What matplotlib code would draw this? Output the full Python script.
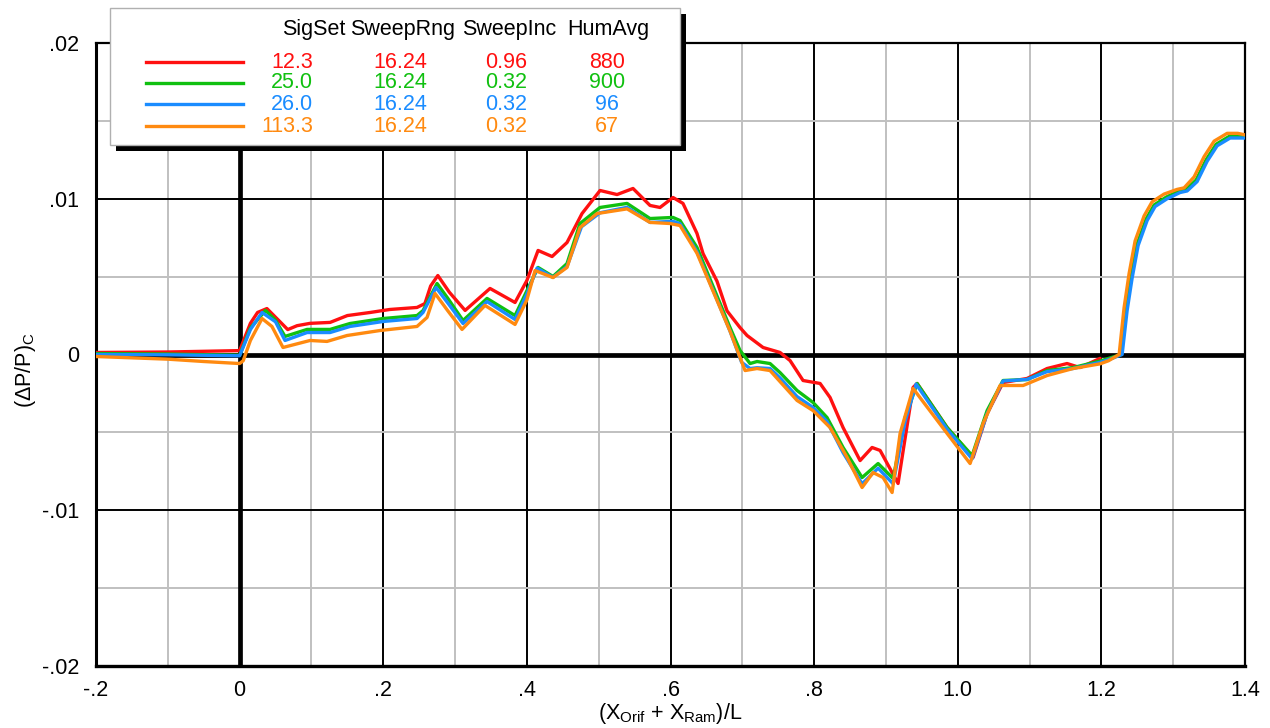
import matplotlib
matplotlib.use("Agg")
import matplotlib.pyplot as plt
from matplotlib.patches import Rectangle

plt.rcParams['font.family'] = ['Liberation Sans', 'DejaVu Sans']
plt.rcParams['mathtext.fontset'] = 'custom'
plt.rcParams['mathtext.rm'] = 'Liberation Sans'
plt.rcParams['mathtext.it'] = 'Liberation Sans:italic'

# ---- run data: normalized position vs. (dP/P)_C ----
red_x = [-0.200, -0.100, 0.000, 0.015, 0.025, 0.038, 0.052, 0.067, 0.080, 0.098,
         0.126, 0.150, 0.182, 0.209, 0.247, 0.258, 0.266, 0.276, 0.292, 0.314,
         0.3487, 0.3835, 0.400, 0.4156, 0.4351, 0.4559, 0.4768, 0.5019, 0.5256, 0.5478,
         0.5715, 0.5854, 0.6035, 0.6174, 0.6369, 0.6453, 0.6648, 0.6787, 0.6968, 0.7066,
         0.7289, 0.7525, 0.7665, 0.7846, 0.8083, 0.8222, 0.8403, 0.8640, 0.8807, 0.8919,
         0.9169, 0.9239, 0.9378, 0.9434, 0.9852, 1.0214, 1.0409, 1.0631, 1.0965, 1.1244,
         1.1522, 1.1703, 1.1982]
red_y = [0.00013, 0.00016, 0.00025, 0.00200, 0.00270, 0.00295, 0.00230, 0.00160, 0.00185, 0.00200,
         0.00206, 0.00250, 0.00270, 0.00289, 0.00302, 0.00327, 0.00440, 0.00507, 0.00400, 0.00283,
         0.00424, 0.00334, 0.00475, 0.00668, 0.00629, 0.00719, 0.00905, 0.01053, 0.01027, 0.01066,
         0.00957, 0.00944, 0.01008, 0.00970, 0.00777, 0.00648, 0.00470, 0.00280, 0.00173, 0.00122,
         0.00045, 0.00013, -0.00039, -0.00167, -0.00186, -0.00276, -0.00469, -0.00681, -0.00597, -0.00616,
         -0.00828, -0.00620, -0.00212, -0.00186, -0.00469, -0.00661, -0.00379, -0.00180, -0.00154, -0.00090,
         -0.00058, -0.00084, -0.00025]

green_x = [-0.200, -0.100, 0.000, 0.015, 0.036, 0.050, 0.0632, 0.0939, 0.1259, 0.1537,
           0.1997, 0.2470, 0.2554, 0.2749, 0.290, 0.3111, 0.3445, 0.3835, 0.4002, 0.4156,
           0.4364, 0.4559, 0.4740, 0.5019, 0.5395, 0.5715, 0.6035, 0.6133, 0.6369, 0.6829,
           0.6968, 0.7108, 0.7205, 0.7386, 0.7525, 0.7762, 0.7985, 0.8180, 0.8403, 0.8668,
           0.8891, 0.9100, 0.9267, 0.9434, 0.9852, 1.0200, 1.0409, 1.0631, 1.0965, 1.1244,
           1.1606, 1.1982, 1.2100, 1.2275, 1.2344, 1.2414, 1.2498, 1.2623, 1.2734, 1.2901, 1.3082,
           1.3180, 1.3319, 1.3458, 1.3598, 1.3779, 1.4000]
green_y = [0.00006, 0.00003, -0.00005, 0.00170, 0.00283, 0.00220, 0.00116, 0.00161, 0.00161, 0.00199,
           0.00231, 0.00250, 0.00282, 0.00456, 0.00360, 0.00218, 0.00360, 0.00250, 0.00411, 0.00559,
           0.00501, 0.00584, 0.00841, 0.00944, 0.00970, 0.00873, 0.00880, 0.00860, 0.00687, 0.00173,
           0.00026, -0.00058, -0.00045, -0.00058, -0.00116, -0.00231, -0.00308, -0.00405, -0.00597, -0.00790,
           -0.00700, -0.00796, -0.00405, -0.00186, -0.00469, -0.00649, -0.00360, -0.00167, -0.00161, -0.00103,
           -0.00084, -0.00042, -0.00025, 0.00000, 0.00280, 0.00500, 0.00710, 0.00870, 0.00960, 0.01010, 0.01050,
           0.01060, 0.01120, 0.01250, 0.01350, 0.01400, 0.01400]

blue_x = [-0.200, -0.100, 0.000, 0.015, 0.0312, 0.050, 0.0632, 0.0939, 0.1259, 0.1537,
          0.1997, 0.2470, 0.2554, 0.2735, 0.290, 0.3111, 0.3445, 0.3835, 0.4002, 0.4142,
          0.4364, 0.4559, 0.4760, 0.5019, 0.5395, 0.5715, 0.6035, 0.6133, 0.6369, 0.6829,
          0.6990, 0.7108, 0.7205, 0.7386, 0.7525, 0.7762, 0.7985, 0.8180, 0.8403, 0.8668,
          0.8891, 0.9100, 0.9267, 0.9420, 0.9852, 1.0200, 1.0409, 1.0631, 1.0965, 1.1244,
          1.1606, 1.1982, 1.2120, 1.2289, 1.2358, 1.2428, 1.2512, 1.2637, 1.2748, 1.2915, 1.3096,
          1.3194, 1.3333, 1.3472, 1.3612, 1.3793, 1.4000]
blue_y = [0.00000, -0.00002, -0.00008, 0.00160, 0.00270, 0.00210, 0.00090, 0.00141, 0.00141, 0.00180,
          0.00212, 0.00231, 0.00270, 0.00430, 0.00330, 0.00199, 0.00340, 0.00225, 0.00390, 0.00555,
          0.00495, 0.00565, 0.00820, 0.00910, 0.00945, 0.00848, 0.00855, 0.00840, 0.00660, 0.00150,
          -0.00050, -0.00090, -0.00085, -0.00090, -0.00150, -0.00270, -0.00340, -0.00430, -0.00630, -0.00830,
          -0.00730, -0.00830, -0.00430, -0.00190, -0.00480, -0.00670, -0.00380, -0.00170, -0.00160, -0.00110,
          -0.00090, -0.00050, -0.00030, 0.00000, 0.00280, 0.00490, 0.00700, 0.00860, 0.00950, 0.01000, 0.01040,
          0.01050, 0.01110, 0.01240, 0.01340, 0.01390, 0.01390]

orange_x = [-0.200, -0.100, -0.050, 0.000, 0.005, 0.015, 0.0312, 0.045, 0.0604, 0.0980,
            0.1217, 0.1496, 0.1955, 0.2470, 0.2610, 0.2721, 0.290, 0.3097, 0.3417, 0.3835,
            0.400, 0.4114, 0.4364, 0.4559, 0.4740, 0.4977, 0.5395, 0.5715, 0.5994, 0.6133,
            0.6369, 0.6648, 0.6829, 0.7038, 0.7205, 0.7386, 0.7762, 0.7985, 0.8222, 0.8459,
            0.8668, 0.8821, 0.8960, 0.9086, 0.9197, 0.9378, 0.9852, 1.0172, 1.0353, 1.0589,
            1.0910, 1.1244, 1.1606, 1.1982, 1.2100, 1.2247, 1.2316, 1.2386, 1.2470, 1.2595, 1.2706,
            1.2873, 1.3054, 1.3152, 1.3291, 1.3430, 1.3570, 1.3751, 1.3900, 1.4000]
orange_y = [-0.00013, -0.00030, -0.00045, -0.00058, -0.00040, 0.00090, 0.00231, 0.00180, 0.00045, 0.00090,
            0.00084, 0.00122, 0.00154, 0.00180, 0.00238, 0.00392, 0.00280, 0.00161, 0.00315, 0.00193,
            0.00350, 0.00539, 0.00494, 0.00559, 0.00815, 0.00905, 0.00935, 0.00848, 0.00841, 0.00828,
            0.00650, 0.00347, 0.00150, -0.00103, -0.00090, -0.00103, -0.00295, -0.00360, -0.00469, -0.00661,
            -0.00854, -0.00758, -0.00790, -0.00886, -0.00507, -0.00218, -0.00507, -0.00700, -0.00443, -0.00199,
            -0.00199, -0.00135, -0.00090, -0.00060, -0.00040, 0.00000, 0.00300, 0.00520, 0.00730, 0.00890, 0.00980,
            0.01030, 0.01060, 0.01070, 0.01140, 0.01270, 0.01370, 0.01420, 0.01420, 0.01410]

series_colors = ['#ff1010', '#10c010', '#1a8cff', '#ff8a10']

# legend table
legend_header = ['SigSet', 'SweepRng', 'SweepInc', 'HumAvg']
sig_set = ['12.3', '25.0', '26.0', '113.3']
sweep_rng = ['16.24', '16.24', '16.24', '16.24']
sweep_inc = ['0.96', '0.32', '0.32', '0.32']
hum_avg = ['880', '900', '96', '67']

x_ticks = [-0.2, 0.0, 0.2, 0.4, 0.6, 0.8, 1.0, 1.2, 1.4]
x_tick_labels = ['-.2', '0', '.2', '.4', '.6', '.8', '1.0', '1.2', '1.4']
y_ticks = [-0.02, -0.01, 0.0, 0.01, 0.02]
y_tick_labels = ['-.02', '-.01', '0', '.01', '.02']

W, H = 1270, 728
FS = 15.5
fig = plt.figure(figsize=(W / 100, H / 100), dpi=100)
ax = fig.add_axes([96 / W, 1 - 666 / H, (1245 - 96) / W, (666 - 43) / H])
ax.set_xlim(-0.2, 1.4)
ax.set_ylim(-0.02, 0.02)

ax.set_xticks(x_ticks)
ax.set_xticklabels(x_tick_labels)
ax.set_xticks([-0.1, 0.1, 0.3, 0.5, 0.7, 0.9, 1.1, 1.3], minor=True)
ax.set_yticks(y_ticks)
ax.set_yticklabels(y_tick_labels)
ax.set_yticks([-0.015, -0.005, 0.005, 0.015], minor=True)
ax.tick_params(which='both', length=0, labelsize=FS)
ax.tick_params(axis='x', pad=10)
ax.tick_params(axis='y', pad=12)
ax.grid(which='minor', color='#c0c0c0', lw=1.4, zorder=0)
ax.grid(which='major', color='black', lw=1.4, zorder=0.5)
ax.set_axisbelow(True)
for s in ax.spines.values():
    s.set_linewidth(1.6)
ax.spines['left'].set_linewidth(2.2)
ax.spines['bottom'].set_linewidth(2.4)
ax.axhline(0, color='black', lw=3.4, zorder=1)
ax.axvline(0, color='black', lw=3.4, zorder=1)

for xs, ys, c, z in [(red_x, red_y, series_colors[0], 3),
                     (green_x, green_y, series_colors[1], 4),
                     (blue_x, blue_y, series_colors[2], 5),
                     (orange_x, orange_y, series_colors[3], 6)]:
    ax.plot(xs, ys, color=c, lw=2.4, zorder=z,
            solid_joinstyle='round', solid_capstyle='round')


def fx(px):
    return px / W


def fy(py):
    return 1 - py / H


# axis titles
fig.text(fx(670), fy(713), r'(X$_{\rm Orif}$ + X$_{\rm Ram}$)/L',
         ha='center', va='center', fontsize=FS)
fig.text(fx(26), fy(370), r'($\Delta$P/P)$_{\rm C}$', rotation=90,
         ha='center', va='center', fontsize=FS)

# legend box with drop shadow
fig.patches.append(Rectangle((fx(116), fy(151)), fx(686) - fx(116), fy(14) - fy(151),
                             transform=fig.transFigure, facecolor='black',
                             edgecolor='none', zorder=10))
fig.patches.append(Rectangle((fx(110), fy(145)), fx(680) - fx(110), fy(8) - fy(145),
                             transform=fig.transFigure, facecolor='white',
                             edgecolor='#b0b0b0', lw=1.0, zorder=11))

header_x = [314, 403, 509, 608]
for hx, h in zip(header_x, legend_header):
    fig.text(fx(hx), fy(30), h, ha='center', va='center', fontsize=FS, zorder=12)

row_y = [62, 83, 104, 126]
for i, ry in enumerate(row_y):
    c = series_colors[i]
    fig.lines.append(plt.Line2D([fx(146), fx(243)], [fy(ry), fy(ry)],
                                transform=fig.transFigure, color=c, lw=2.4, zorder=12))
    fig.text(fx(313), fy(ry), sig_set[i], ha='right', va='center', color=c, fontsize=FS, zorder=12)
    fig.text(fx(400), fy(ry), sweep_rng[i], ha='center', va='center', color=c, fontsize=FS, zorder=12)
    fig.text(fx(506), fy(ry), sweep_inc[i], ha='center', va='center', color=c, fontsize=FS, zorder=12)
    fig.text(fx(607), fy(ry), hum_avg[i], ha='center', va='center', color=c, fontsize=FS, zorder=12)

fig.savefig('out.png', dpi=100)
